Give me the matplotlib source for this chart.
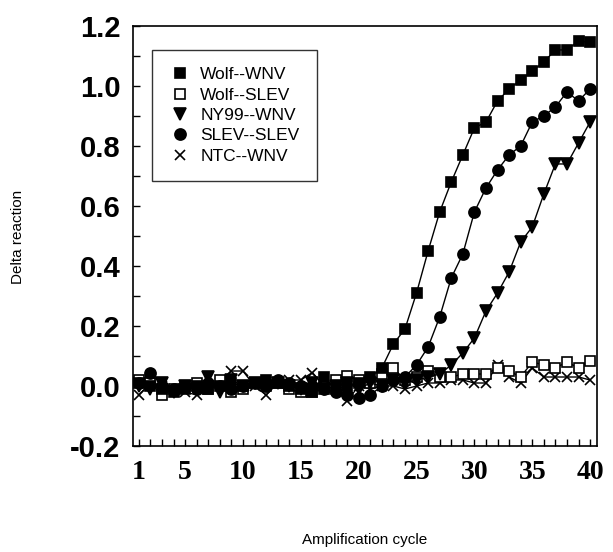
import matplotlib
matplotlib.use("Agg")
import matplotlib.pyplot as plt
from matplotlib.lines import Line2D
from matplotlib.ticker import MultipleLocator

# amplification cycles 1..40
cycles = list(range(1, 41))

wolf_wnv = [0.01, 0.00, -0.01, -0.02, -0.01, 0.00, -0.01, 0.00, 0.01, 0.00,
            0.01, 0.02, 0.01, 0.00, -0.01, -0.02, 0.03, -0.01, 0.00, 0.01,
            0.03, 0.06, 0.14, 0.19, 0.31, 0.45, 0.58, 0.68, 0.77, 0.86,
            0.88, 0.95, 0.99, 1.02, 1.05, 1.08, 1.12, 1.12, 1.15, 1.145]
wolf_slev = [0.02, 0.01, -0.03, -0.01, 0.00, 0.01, -0.01, 0.02, -0.02, -0.01,
             0.01, 0.00, 0.01, -0.01, -0.02, -0.02, -0.01, 0.02, 0.035, 0.02,
             0.01, 0.04, 0.06, 0.02, 0.03, 0.05, 0.03, 0.03, 0.04, 0.04,
             0.04, 0.06, 0.05, 0.03, 0.08, 0.07, 0.06, 0.08, 0.06, 0.085]
ny99_wnv = [0.00, -0.01, 0.01, -0.02, 0.00, -0.01, 0.03, -0.02, 0.02, 0.00,
            0.01, 0.00, 0.01, 0.00, -0.01, 0.01, -0.01, 0.00, 0.01, -0.01,
            0.01, 0.00, 0.02, 0.01, 0.02, 0.03, 0.04, 0.07, 0.11, 0.16,
            0.25, 0.31, 0.38, 0.48, 0.53, 0.64, 0.74, 0.74, 0.81, 0.88]
slev_slev = [0.01, 0.045, 0.00, -0.01, 0.00, -0.01, 0.01, 0.00, -0.01, 0.00,
             0.01, 0.00, 0.02, 0.01, 0.00, 0.00, -0.01, -0.02, -0.03, -0.04,
             -0.03, 0.00, 0.02, 0.03, 0.07, 0.13, 0.23, 0.36, 0.44, 0.58,
             0.66, 0.72, 0.77, 0.80, 0.88, 0.90, 0.93, 0.98, 0.95, 0.99]
ntc_wnv = [-0.03, 0.01, 0.00, -0.01, -0.02, -0.03, 0.00, 0.01, 0.05, 0.05,
           0.00, -0.03, 0.01, 0.02, 0.02, 0.045, 0.00, -0.01, -0.05, 0.00,
           -0.01, 0.00, 0.00, -0.01, 0.00, 0.01, 0.01, 0.02, 0.02, 0.01,
           0.01, 0.07, 0.03, 0.01, 0.06, 0.03, 0.03, 0.03, 0.03, 0.02]

labels = ['Wolf--WNV', 'Wolf--SLEV', 'NY99--WNV', 'SLEV--SLEV', 'NTC--WNV']
series = [wolf_wnv, wolf_slev, ny99_wnv, slev_slev, ntc_wnv]
markers = ['s', 's', 'v', 'o', 'x']
faces = ['black', 'white', 'black', 'black', 'black']
sizes = [7.5, 7.5, 8.5, 8, 6.5]

fig = plt.figure(figsize=(6.13, 5.52), dpi=100)
ax = fig.add_axes([0.217, 0.192, 0.757, 0.761])

# draw baseline-ish series first, then the rising ones
order = [4, 1, 2, 3, 0]
for i in order:
    ax.plot(cycles, series[i], color='black', lw=1.0, marker=markers[i],
            markersize=sizes[i], markerfacecolor=faces[i],
            markeredgecolor='black', markeredgewidth=1.2, zorder=3)

ax.set_xlim(0.5, 40.6)
ax.set_ylim(-0.2, 1.2)
ax.set_xticks([1, 5, 10, 15, 20, 25, 30, 35, 40])
ax.xaxis.set_minor_locator(MultipleLocator(1))
ax.set_yticks([-0.2, 0.0, 0.2, 0.4, 0.6, 0.8, 1.0, 1.2])
ax.set_yticklabels(['-0.2', '0.0', '0.2', '0.4', '0.6', '0.8', '1.0', '1.2'])
ax.yaxis.set_minor_locator(MultipleLocator(0.1))

ax.tick_params(axis='both', which='both', direction='in', length=5, width=1,
               top=False, right=False)
ax.tick_params(axis='y', which='major', labelsize=21, pad=9)
ax.tick_params(axis='x', which='major', labelsize=20, pad=10)
for t in ax.get_xticklabels():
    t.set_fontfamily('Liberation Serif')
    t.set_fontweight('bold')
for t in ax.get_yticklabels():
    t.set_fontfamily('Liberation Sans')
    t.set_fontweight('bold')
for s in ax.spines.values():
    s.set_linewidth(1.2)

fig.text(0.030, 0.57, 'Delta reaction', rotation=90, ha='center', va='center',
         fontsize=11, family='Liberation Sans')
fig.text(0.595, 0.022, 'Amplification cycle', ha='center', va='center',
         fontsize=11, family='Liberation Sans')

handles = [Line2D([], [], linestyle='none', marker=markers[i],
                  markersize=sizes[i], markerfacecolor=faces[i],
                  markeredgecolor='black', markeredgewidth=1.2)
           for i in range(5)]
leg = ax.legend(handles, labels, loc='upper left', bbox_to_anchor=(0.04, 0.943),
                borderaxespad=0, frameon=True, fancybox=False, edgecolor='black',
                prop={'family': 'Liberation Sans', 'size': 12.5},
                borderpad=1.0, labelspacing=0.3, handlelength=1.3,
                handletextpad=0.5, numpoints=1)
leg.get_frame().set_linewidth(1.0)

fig.savefig('out.png', dpi=100)
